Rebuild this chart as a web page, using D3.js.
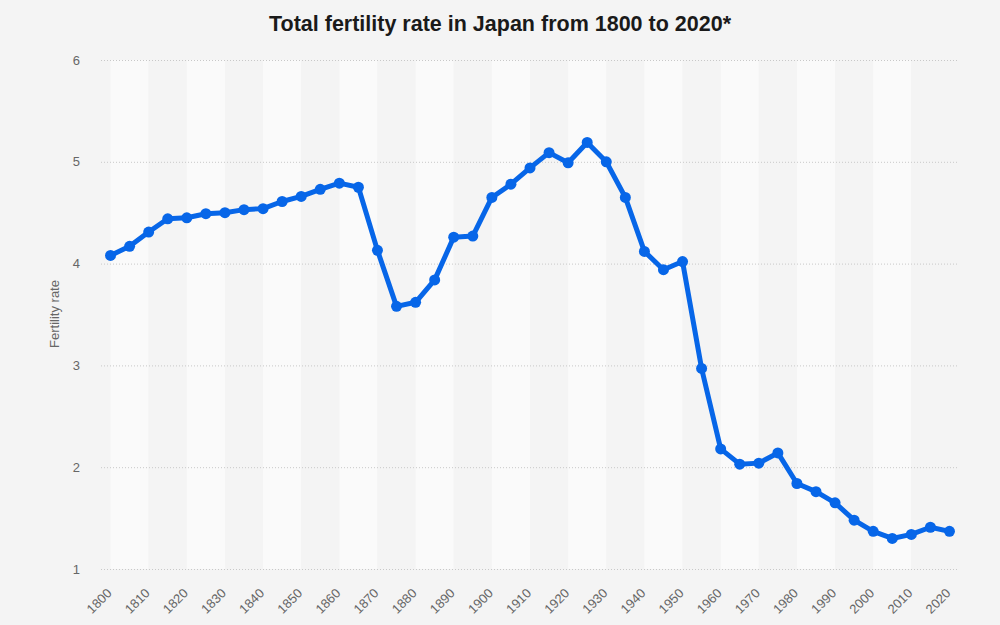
<!DOCTYPE html>
<html lang="en">
<head>
    <meta charset="UTF-8">
    <title>Total fertility rate in Japan</title>
    <script src="https://d3js.org/d3.v7.min.js"></script>
    <style>
        body { margin: 0; background: #f4f4f4; }
        .tick-label {
            font-family: "Liberation Sans", Arial, sans-serif;
            font-size: 13px;
            fill: #666;
        }
        .title {
            font-family: "Liberation Sans", Arial, sans-serif;
            font-size: 21.5px;
            font-weight: bold;
            fill: #1a1a1a;
            text-anchor: middle;
        }
    </style>
</head>
<body>
    <script>
        const years = [1800, 1805, 1810, 1815, 1820, 1825, 1830, 1835, 1840, 1845,
            1850, 1855, 1860, 1865, 1870, 1875, 1880, 1885, 1890, 1895,
            1900, 1905, 1910, 1915, 1920, 1925, 1930, 1935, 1940, 1945,
            1950, 1955, 1960, 1965, 1970, 1975, 1980, 1985, 1990, 1995,
            2000, 2005, 2010, 2015, 2020];
        const fertility = [4.08, 4.17, 4.31, 4.44, 4.45, 4.49, 4.50, 4.53, 4.54, 4.61,
            4.66, 4.73, 4.79, 4.75, 4.13, 3.58, 3.62, 3.84, 4.26, 4.27,
            4.65, 4.78, 4.94, 5.09, 4.99, 5.19, 5.00, 4.65, 4.12, 3.94,
            4.02, 2.97, 2.18, 2.03, 2.04, 2.14, 1.84, 1.76, 1.65, 1.48,
            1.37, 1.30, 1.34, 1.41, 1.37];
        const yTicks = [1, 2, 3, 4, 5, 6];
        const xLabels = years.filter(y => y % 10 === 0);

        const width = 1000, height = 625;
        const plotLeft = 101, plotRight = 959, plotTop = 60, plotBottom = 569;

        const svg = d3.select("body").append("svg")
            .attr("width", width)
            .attr("height", height);

        svg.append("rect")
            .attr("width", width)
            .attr("height", height)
            .attr("fill", "#f4f4f4");

        const x = d3.scaleBand().domain(years).range([plotLeft, plotRight]).padding(0);
        const cx = d => x(d) + x.bandwidth() / 2;
        const y = d3.scaleLinear().domain([1, 6]).range([plotBottom, plotTop]);

        // alternating decade bands
        const decades = xLabels.slice(0, -1);
        svg.append("g").selectAll("rect")
            .data(decades)
            .join("rect")
            .attr("x", d => cx(d))
            .attr("y", plotTop)
            .attr("width", d => cx(d + 10) - cx(d))
            .attr("height", plotBottom - plotTop)
            .attr("fill", (d, i) => i % 2 === 0 ? "#fafafa" : "#f4f4f4");

        // horizontal grid
        svg.append("g").selectAll("line")
            .data(yTicks)
            .join("line")
            .attr("x1", plotLeft)
            .attr("x2", plotRight)
            .attr("y1", d => y(d) + 0.5)
            .attr("y2", d => y(d) + 0.5)
            .attr("stroke", "#c8c8c8")
            .attr("stroke-dasharray", "1,2");

        // y tick labels
        svg.append("g").selectAll("text")
            .data(yTicks)
            .join("text")
            .attr("class", "tick-label")
            .attr("x", 80)
            .attr("y", d => y(d))
            .attr("dy", "0.35em")
            .attr("text-anchor", "end")
            .text(d => d);

        svg.append("text")
            .attr("class", "tick-label")
            .attr("transform", "translate(59,314) rotate(-90)")
            .attr("text-anchor", "middle")
            .text("Fertility rate");

        // x tick labels
        svg.append("g").selectAll("text")
            .data(xLabels)
            .join("text")
            .attr("class", "tick-label")
            .attr("transform", d => `translate(${cx(d) + 2},${plotBottom + 25}) rotate(-45)`)
            .attr("text-anchor", "end")
            .text(d => d);

        const data = years.map((yr, i) => ({ yr, v: fertility[i] }));

        svg.append("path")
            .datum(data)
            .attr("fill", "none")
            .attr("stroke", "#0766e8")
            .attr("stroke-width", 5)
            .attr("stroke-linejoin", "round")
            .attr("d", d3.line().x(d => cx(d.yr)).y(d => y(d.v)));

        svg.append("g").selectAll("circle")
            .data(data)
            .join("circle")
            .attr("cx", d => cx(d.yr))
            .attr("cy", d => y(d.v))
            .attr("r", 5.5)
            .attr("fill", "#0766e8");

        svg.append("text")
            .attr("class", "title")
            .attr("x", 500)
            .attr("y", 31)
            .text("Total fertility rate in Japan from 1800 to 2020*");
    </script>
</body>
</html>
